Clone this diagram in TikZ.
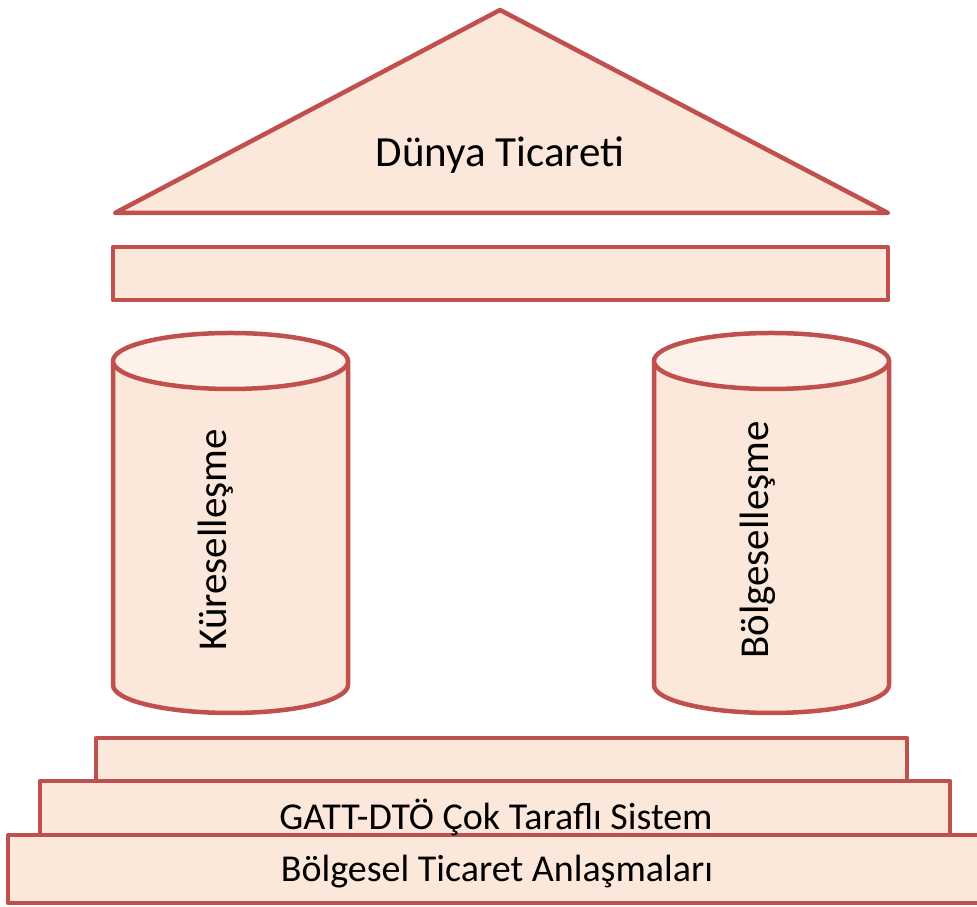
\documentclass[tikz,border=0pt]{standalone}
\usepackage{fontspec}
\setmainfont{Carlito}
\definecolor{templeline}{HTML}{C0504D}
\definecolor{templefill}{HTML}{FCE8DB}
\definecolor{templetop}{HTML}{FEF1E9}
\tikzset{
	part/.style={draw=templeline, fill=templefill, line width=4.5pt, line join=round},
	words/.style={font=\fontsize{41}{48}\selectfont, inner sep=0pt},
	stepwords/.style={font=\fontsize{38}{44}\selectfont, inner sep=0pt}
}
\begin{document}
\begin{tikzpicture}[x=1pt,y=1pt]
		\useasboundingbox (0,0) rectangle (977,907);
		\draw[part] (500,897) -- (888,694) -- (115,694) -- cycle;
		\draw[part] (113,607) rectangle (888,660);
		\foreach \cx in {230.5,771.5}
		{
			\draw[part] (\cx-117.5,546) -- (\cx-117.5,222) arc[start angle=180, end angle=360, x radius=117.5, y radius=28] -- (\cx+117.5,546);
			\draw[part, fill=templetop] (\cx,546) ellipse[x radius=117.5, y radius=28];
		}
		\draw[part] (96,126) rectangle (907,169);
		\draw[part] (40,72) rectangle (950,126);
		\draw[part] (8,4) rectangle (982,72);
		\node[words, font=\fontsize{43}{50}\selectfont] (dunya) at (500,752) {Dünya Ticareti};
		\node[words, rotate=90] (kuresel) at (216,367) {Küreselleşme};
		\node[words, rotate=90] (bolgesel) at (758,367) {Bölgeselleşme};
		\node[stepwords] (gatt) at (496,90) {GATT-DTÖ Çok Taraflı Sistem};
		\node[stepwords] (rta) at (497,35) {Bölgesel Ticaret Anlaşmaları};
		\end{tikzpicture}
\end{document}
